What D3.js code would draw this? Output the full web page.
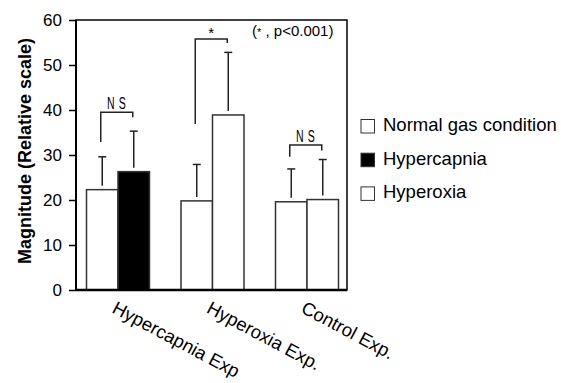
<!DOCTYPE html>
<html>
<head>
<meta charset="utf-8">
<script src="https://cdn.jsdelivr.net/npm/d3@7"></script>
<style>
    body { margin: 0; background: #fff; }
    svg { display: block; font-family: "Liberation Sans", Arial, sans-serif; }
</style>
</head>
<body>
<svg id="chart" width="561" height="383"></svg>
<script>
// data
const groups = ['Hypercapnia Exp', 'Hyperoxia Exp.', 'Control Exp.'];
const normalMean = [22.3, 19.8, 19.6];
const normalSd = [7.3, 8.1, 7.3];
const testMean = [26.3, 38.9, 20.1];
const testSd = [9.0, 13.9, 8.9];
const testSeries = ['Hypercapnia', 'Hyperoxia', 'Hyperoxia'];
const legendKeys = ['Normal gas condition', 'Hypercapnia', 'Hyperoxia'];
const legendFill = ['#fff', '#000', '#fff'];
const yTicks = [0, 10, 20, 30, 40, 50, 60];
// significance brackets: group, label, top value, left drop, right drop
const brackets = [
    {group: 0, label: 'N S', top: 39.5, left: 32.9, right: 38.4},
    {group: 1, label: '*', top: 55.8, left: 36.9, right: 54.9},
    {group: 2, label: 'N S', top: 32.2, left: 29.6, right: 31.0}
];

const fillOf = {'Normal gas condition': '#fff', 'Hypercapnia': '#000', 'Hyperoxia': '#fff'};

const svg = d3.select('#chart');
const plot = {left: 76, top: 20, right: 347, bottom: 290};

const y = d3.scaleLinear().domain([0, 60]).range([plot.bottom, plot.top]);
const x0 = d3.scalePoint().domain(groups).range([118, 307]);
const x1 = d3.scaleBand().domain(['normal', 'test']).range([-31.5, 31.5]);

// bars table built from the arrays
let bars = [];
groups.forEach(function (g, i) {
    bars.push({group: g, key: 'normal', mean: normalMean[i], sd: normalSd[i], series: 'Normal gas condition'});
    bars.push({group: g, key: 'test', mean: testMean[i], sd: testSd[i], series: testSeries[i]});
});

const barG = svg.append('g');
barG.selectAll('rect')
    .data(bars)
    .enter().append('rect')
    .attr('x', d => x0(d.group) + x1(d.key))
    .attr('y', d => y(d.mean))
    .attr('width', x1.bandwidth())
    .attr('height', d => y(0) - y(d.mean))
    .attr('fill', d => fillOf[d.series])
    .attr('stroke', '#333')
    .attr('stroke-width', 1.5);

// error bars (upper only)
const errG = svg.append('g').attr('stroke', '#222').attr('stroke-width', 1.5);
bars.forEach(function (d) {
    const cx = x0(d.group) + x1(d.key) + x1.bandwidth() / 2;
    errG.append('line')
        .attr('x1', cx).attr('x2', cx)
        .attr('y1', y(d.mean) - 4).attr('y2', y(d.mean + d.sd));
    errG.append('line')
        .attr('x1', cx - 4).attr('x2', cx + 4)
        .attr('y1', y(d.mean + d.sd)).attr('y2', y(d.mean + d.sd));
});

// frame
svg.append('rect')
    .attr('x', plot.left).attr('y', plot.top)
    .attr('width', plot.right - plot.left).attr('height', plot.bottom - plot.top)
    .attr('fill', 'none').attr('stroke', '#000').attr('stroke-width', 1.5);
svg.append('line')
    .attr('x1', plot.left).attr('x2', plot.left)
    .attr('y1', plot.top).attr('y2', plot.bottom)
    .attr('stroke', '#000').attr('stroke-width', 2);
svg.append('line')
    .attr('x1', plot.left).attr('x2', plot.right)
    .attr('y1', plot.bottom).attr('y2', plot.bottom)
    .attr('stroke', '#000').attr('stroke-width', 2.5);

// y axis
const yAxis = svg.append('g')
    .attr('transform', 'translate(' + plot.left + ',0)')
    .call(d3.axisLeft(y).tickValues(yTicks).tickSize(7).tickPadding(7));
yAxis.select('.domain').remove();
yAxis.selectAll('line').attr('stroke', '#000').attr('stroke-width', 1.5);
yAxis.selectAll('text')
    .attr('fill', '#000')
    .style('font-family', '"Liberation Sans", Arial, sans-serif')
    .style('font-size', '17px');

svg.append('text')
    .attr('transform', 'translate(31,151) rotate(-90)')
    .attr('text-anchor', 'middle')
    .style('font-size', '18px')
    .style('font-weight', 'bold')
    .text('Magnitude (Relative scale)');

// x category labels
svg.append('g').selectAll('text')
    .data(groups)
    .enter().append('text')
    .attr('transform', d => 'translate(' + (x0(d) - 7) + ',312) rotate(28)')
    .style('font-size', '18.5px')
    .text(d => d);

// significance brackets
const brG = svg.append('g');
brackets.forEach(function (b) {
    const g = groups[b.group];
    const xl = x0(g) + x1('normal') + x1.bandwidth() / 2 - 1.5;
    const xr = x0(g) + x1('test') + x1.bandwidth() / 2 - 1;
    brG.append('path')
        .attr('d', 'M' + xl + ',' + y(b.left) + 'V' + y(b.top) + 'H' + xr + 'V' + y(b.right))
        .attr('fill', 'none').attr('stroke', '#222').attr('stroke-width', 1.5);
    const cx = (xl + xr) / 2;
    if (b.label === '*') {
        brG.append('text')
            .attr('x', cx).attr('y', y(b.top) - 1)
            .attr('text-anchor', 'middle')
            .style('font-size', '15px')
            .text(b.label);
    } else {
        brG.append('text')
            .attr('transform', 'translate(' + cx + ',' + (y(b.top) - 3) + ') scale(0.62,1)')
            .attr('text-anchor', 'middle')
            .style('font-size', '17px')
            .style('letter-spacing', '1px')
            .text(b.label);
    }
});

// p-value note
const note = svg.append('text')
    .attr('x', 252).attr('y', 36)
    .style('font-size', '15px');
note.append('tspan').text('(');
note.append('tspan').style('font-size', '11px').text('*');
note.append('tspan').text(' , p<0.001)');

// legend
const legend = svg.append('g');
legendKeys.forEach(function (k, i) {
    const ly = 119.5 + i * 33.7;
    legend.append('rect')
        .attr('x', 361).attr('y', ly)
        .attr('width', 13.5).attr('height', 13.5)
        .attr('fill', legendFill[i])
        .attr('stroke', '#333').attr('stroke-width', 1);
    legend.append('text')
        .attr('x', 383).attr('y', ly + 11.5)
        .style('font-size', '18.5px')
        .text(k);
});
</script>
</body>
</html>
